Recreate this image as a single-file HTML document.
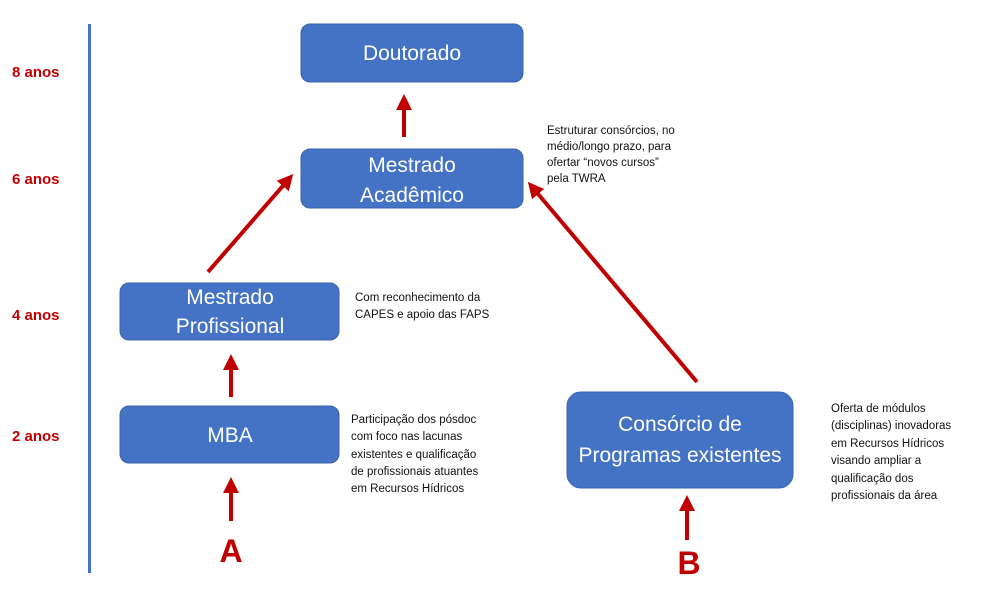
<!DOCTYPE html>
<html><head><meta charset="utf-8"><style>
body{margin:0;background:#fff;}
svg{display:block;font-family:"Liberation Sans",sans-serif;}
.b{fill:#4472c4;stroke:#3a63ad;stroke-width:1}
.bt{fill:#fff;font-size:21px;text-anchor:middle}
.y{fill:#c00000;font-size:15px;font-weight:bold}
.n{fill:#111;font-size:11.5px}
</style></head><body>
<svg width="1001" height="610" viewBox="0 0 1001 610">
<defs><marker id="ah" markerWidth="4" markerHeight="4" refX="2" refY="2" orient="auto" markerUnits="strokeWidth"><path d="M0,0 L4,2 L0,4 z" fill="#c00000"/></marker></defs>
<rect x="88" y="24" width="3" height="549" fill="#4472c4"/>
<text class="y" x="12" y="77">8 anos</text>
<text class="y" x="12" y="184">6 anos</text>
<text class="y" x="12" y="320">4 anos</text>
<text class="y" x="12" y="441">2 anos</text>
<rect class="b" x="301" y="24" width="222" height="58" rx="9"/>
<text class="bt" x="412" y="60">Doutorado</text>
<rect class="b" x="301" y="149" width="222" height="59" rx="9"/>
<text class="bt" x="412" y="172">Mestrado</text>
<text class="bt" x="412" y="202">Acadêmico</text>
<rect class="b" x="120" y="283" width="219" height="57" rx="9"/>
<text class="bt" x="230" y="304">Mestrado</text>
<text class="bt" x="230" y="333">Profissional</text>
<rect class="b" x="120" y="406" width="219" height="57" rx="9"/>
<text class="bt" x="230" y="442">MBA</text>
<rect class="b" x="567" y="392" width="226" height="96" rx="14"/>
<text class="bt" x="680" y="431">Consórcio de</text>
<text class="bt" x="680" y="462">Programas existentes</text>
<g stroke="#c00000" stroke-width="4" marker-end="url(#ah)">
<line x1="404" y1="137" x2="404" y2="102"/>
<line x1="208" y1="272" x2="288" y2="180"/>
<line x1="697" y1="382" x2="533" y2="188"/>
<line x1="231" y1="397" x2="231" y2="362"/>
<line x1="231" y1="521" x2="231" y2="485"/>
<line x1="687" y1="540" x2="687" y2="503"/>
</g>
<text x="231" y="562" fill="#c00000" font-size="32" font-weight="bold" text-anchor="middle">A</text>
<text x="689" y="574" fill="#c00000" font-size="32" font-weight="bold" text-anchor="middle">B</text>
<g class="n">
<text x="547" y="134">Estruturar consórcios, no</text>
<text x="547" y="150">médio/longo prazo, para</text>
<text x="547" y="166">ofertar “novos cursos”</text>
<text x="547" y="182">pela TWRA</text>
<text x="355" y="301">Com reconhecimento da</text>
<text x="355" y="318">CAPES e apoio das FAPS</text>
<text x="351" y="423">Participação dos pósdoc</text>
<text x="351" y="440">com foco nas lacunas</text>
<text x="351" y="458">existentes e qualificação</text>
<text x="351" y="475">de profissionais atuantes</text>
<text x="351" y="492">em Recursos Hídricos</text>
<text x="831" y="412">Oferta de módulos</text>
<text x="831" y="429">(disciplinas) inovadoras</text>
<text x="831" y="447">em Recursos Hídricos</text>
<text x="831" y="464">visando ampliar a</text>
<text x="831" y="482">qualificação dos</text>
<text x="831" y="499">profissionais da área</text>
</g>
</svg>
</body></html>
